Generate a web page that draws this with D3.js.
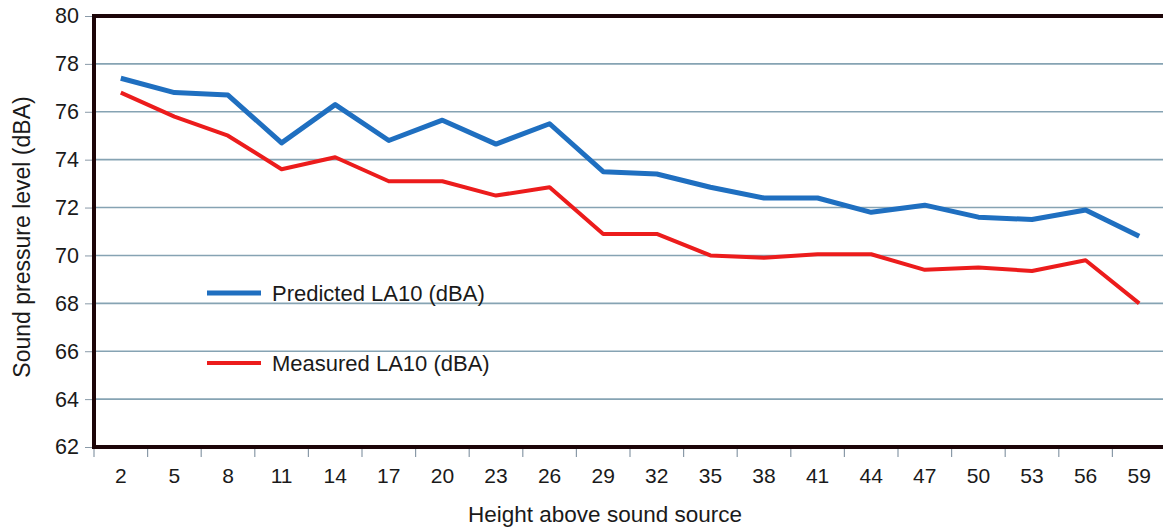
<!DOCTYPE html>
<html>
<head>
<meta charset="utf-8">
<script src="https://cdn.jsdelivr.net/npm/d3@7"></script>
<style>
  body { margin:0; background:#fff; overflow:hidden; }
  text { font-family: "Liberation Sans", Arial, sans-serif; fill:#1a1a1a; }
</style>
</head>
<body>
<div id="chart"></div>
<script>
// Data
const heights = [2,5,8,11,14,17,20,23,26,29,32,35,38,41,44,47,50,53,56,59]
const predicted = [77.4,76.8,76.7,74.7,76.3,74.8,75.65,74.65,75.5,73.5,73.4,72.85,72.4,72.4,71.8,72.1,71.6,71.5,71.9,70.8]
const measured = [76.8,75.8,75.0,73.6,74.1,73.1,73.1,72.5,72.85,70.9,70.9,70.0,69.9,70.05,70.05,69.4,69.5,69.35,69.8,68.0]
const yTicks = [62,64,66,68,70,72,74,76,78,80]
const seriesNames = ['Predicted LA10 (dBA)', 'Measured LA10 (dBA)']

function draw(){
    const width = 1163, height = 529
    const plot = {left:94, right:1166, top:16, bottom:447}

    const svg = d3.select('#chart').append('svg')
        .attr('width', width).attr('height', height)

    const xScale = d3.scaleBand()
        .domain(heights)
        .range([plot.left, plot.right])
    const yScale = d3.scaleLinear()
        .domain([62, 80])
        .range([plot.bottom, plot.top])

    // gridlines
    svg.append('g').selectAll('line')
        .data(yTicks.filter(d => d > 62 && d < 80))
        .join('line')
        .attr('x1', plot.left).attr('x2', width)
        .attr('y1', d => yScale(d)).attr('y2', d => yScale(d))
        .attr('stroke', '#86a3b3').attr('stroke-width', 1.6)

    // y axis
    const yAxis = d3.axisLeft(yScale).tickValues(yTicks).tickSize(9).tickPadding(6)
    const yAxisGroup = svg.append('g')
        .attr('transform', `translate(${plot.left},0)`)
        .call(yAxis)
    yAxisGroup.select('.domain').remove()
    yAxisGroup.selectAll('.tick line').attr('stroke', '#8a9aa8')
    yAxisGroup.selectAll('text').style('font-size', '21.5px').attr('fill', '#1a1a1a')

    // x axis: ticks at band edges, labels centred
    const xAxisGroup = svg.append('g')
        .attr('transform', `translate(0,${plot.bottom})`)
    xAxisGroup.selectAll('line')
        .data(heights.concat(['end']))
        .join('line')
        .attr('x1', (d, i) => plot.left + i * xScale.step())
        .attr('x2', (d, i) => plot.left + i * xScale.step())
        .attr('y1', 2).attr('y2', 10)
        .attr('stroke', '#8a9aa8').attr('stroke-width', 1.2)
    xAxisGroup.selectAll('text')
        .data(heights)
        .join('text')
        .attr('x', d => xScale(d) + xScale.bandwidth() / 2)
        .attr('y', 36)
        .attr('text-anchor', 'middle')
        .style('font-size', '21px')
        .text(d => d)

    // frame
    svg.append('path')
        .attr('d', `M${width},${plot.top}H${plot.left}V${plot.bottom}H${width}`)
        .attr('fill', 'none').attr('stroke', '#1c0508').attr('stroke-width', 4)

    // lines
    const line = d3.line()
        .x((d, i) => xScale(heights[i]) + xScale.bandwidth() / 2)
        .y(d => yScale(d))
    svg.append('path').datum(predicted)
        .attr('d', line).attr('fill', 'none')
        .attr('stroke', '#1f6fc0').attr('stroke-width', 5).attr('stroke-linejoin', 'round')
    svg.append('path').datum(measured)
        .attr('d', line).attr('fill', 'none')
        .attr('stroke', '#ec1c1c').attr('stroke-width', 4).attr('stroke-linejoin', 'round')

    // legend
    const legend = svg.append('g')
    const colors = ['#1f6fc0', '#ec1c1c']
    const legY = [293, 363]
    seriesNames.forEach((name, i) => {
        legend.append('line')
            .attr('x1', 207).attr('x2', 261)
            .attr('y1', legY[i]).attr('y2', legY[i])
            .attr('stroke', colors[i]).attr('stroke-width', i === 0 ? 5 : 4)
        legend.append('text')
            .attr('x', 272).attr('y', legY[i] + 8)
            .style('font-size', '22px')
            .text(name)
    })

    // titles
    svg.append('text')
        .attr('transform', `translate(30,237) rotate(-90)`)
        .attr('text-anchor', 'middle')
        .style('font-size', '23px')
        .text('Sound pressure level (dBA)')
    svg.append('text')
        .attr('x', 605).attr('y', 522)
        .attr('text-anchor', 'middle')
        .style('font-size', '22.5px')
        .text('Height above sound source')
}
draw()
</script>
</body>
</html>
